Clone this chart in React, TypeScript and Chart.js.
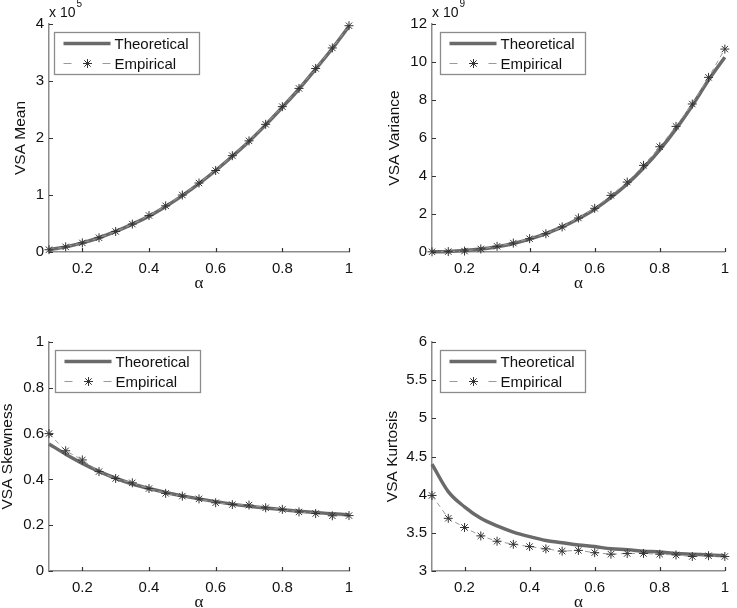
import React, { useEffect, useRef } from "react";
import { Chart, registerables } from "chart.js";

Chart.register(...registerables);

// ---------- data ----------
const alpha = [0.1, 0.15, 0.2, 0.25, 0.3, 0.35, 0.4, 0.45, 0.5, 0.55, 0.6, 0.65, 0.7, 0.75, 0.8, 0.85, 0.9, 0.95, 1.0];
const xTicks = [0.2, 0.4, 0.6, 0.8, 1];

// VSA Mean (x 10^5)
const meanTheoretical = [0.04, 0.09, 0.16, 0.25, 0.36, 0.49, 0.63, 0.8, 0.99, 1.2, 1.43, 1.68, 1.94, 2.23, 2.54, 2.86, 3.21, 3.57, 3.96];
const meanEmpirical = [0.04, 0.09, 0.16, 0.25, 0.36, 0.49, 0.64, 0.81, 1.0, 1.21, 1.43, 1.69, 1.95, 2.24, 2.55, 2.87, 3.22, 3.58, 3.97];
const meanTicks = [0, 1, 2, 3, 4];

// VSA Variance (x 10^9)
const varTheoretical = [0.01, 0.03, 0.08, 0.16, 0.28, 0.45, 0.68, 0.97, 1.32, 1.75, 2.25, 2.87, 3.58, 4.42, 5.38, 6.48, 7.71, 9.05, 10.25];
const varEmpirical = [0.01, 0.02, 0.05, 0.16, 0.3, 0.47, 0.7, 0.96, 1.32, 1.79, 2.3, 2.98, 3.68, 4.56, 5.54, 6.61, 7.79, 9.19, 10.68];
const varTicks = [0, 2, 4, 6, 8, 10, 12];

// VSA Skewness
const skewTheoretical = [0.555, 0.51, 0.47, 0.435, 0.405, 0.38, 0.36, 0.343, 0.328, 0.315, 0.303, 0.292, 0.283, 0.275, 0.268, 0.261, 0.255, 0.25, 0.245];
const skewEmpirical = [0.6, 0.525, 0.485, 0.434, 0.404, 0.385, 0.36, 0.339, 0.327, 0.315, 0.298, 0.29, 0.288, 0.276, 0.269, 0.258, 0.251, 0.241, 0.242];
const skewTicks = [0, 0.2, 0.4, 0.6, 0.8, 1];

// VSA Kurtosis
const kurtTheoretical = [4.4, 4.04, 3.84, 3.69, 3.59, 3.51, 3.45, 3.4, 3.37, 3.34, 3.32, 3.29, 3.28, 3.26, 3.25, 3.23, 3.22, 3.21, 3.2];
const kurtEmpirical = [3.99, 3.69, 3.57, 3.46, 3.39, 3.35, 3.32, 3.29, 3.26, 3.27, 3.24, 3.22, 3.23, 3.23, 3.22, 3.21, 3.19, 3.2, 3.19];
const kurtTicks = [3, 3.5, 4, 4.5, 5, 5.5, 6];

const legendLabels = ["Theoretical", "Empirical"];

// ---------- styles ----------
const SANS = "'Liberation Sans', Arial, Helvetica, sans-serif";
const SERIF = "'Liberation Serif', 'Times New Roman', serif";
const THEO_COLOR = "#6a6a6a";
const EMP_LINE = "#9a9a9a";
const STAR_COLOR = "#333333";
const AXIS_COLOR = "#8c8c8c";
const TEXT_COLOR = "#111111";

Chart.defaults.font.family = SANS;
Chart.defaults.color = TEXT_COLOR;

type PanelProps = {
  left: number;
  top: number;
  width: number;
  height: number;
  axisW: number;
  padTop: number;
  padRight: number;
  yTitle: string;
  yTitlePad: number;
  yTicks: number[];
  theo: number[];
  emp: number[];
  exponent?: string;
  legendDx: number;
};

function drawStar(ctx: CanvasRenderingContext2D, x: number, y: number, r: number) {
  ctx.beginPath();
  for (let k = 0; k < 4; k++) {
    const a = (k * Math.PI) / 4;
    ctx.moveTo(x - r * Math.cos(a), y - r * Math.sin(a));
    ctx.lineTo(x + r * Math.cos(a), y + r * Math.sin(a));
  }
  ctx.stroke();
}

function Panel(p: PanelProps) {
  const ref = useRef<HTMLCanvasElement | null>(null);

  useEffect(() => {
    const canvas = ref.current;
    if (!canvas) return;

    const decor = {
      id: "decor",
      afterDatasetsDraw(chart: any) {
        const ctx: CanvasRenderingContext2D = chart.ctx;
        const area = chart.chartArea;
        const xs = chart.scales.x;
        const ys = chart.scales.y;
        ctx.save();
        // inward tick marks
        ctx.strokeStyle = "#333";
        ctx.lineWidth = 1.2;
        ctx.beginPath();
        xTicks.forEach((v) => {
          const px = Math.round(xs.getPixelForValue(v)) + 0.5;
          ctx.moveTo(px, area.bottom);
          ctx.lineTo(px, area.bottom - 4);
        });
        p.yTicks.forEach((v) => {
          const py = Math.round(ys.getPixelForValue(v)) + 0.5;
          ctx.moveTo(area.left, py);
          ctx.lineTo(area.left + 4, py);
        });
        ctx.stroke();
        ctx.restore();
      },
      afterDraw(chart: any) {
        const ctx: CanvasRenderingContext2D = chart.ctx;
        const area = chart.chartArea;
        ctx.save();
        // exponent label
        if (p.exponent) {
          ctx.fillStyle = TEXT_COLOR;
          ctx.textBaseline = "alphabetic";
          ctx.textAlign = "left";
          ctx.font = `14px ${SANS}`;
          const base = "x 10";
          ctx.fillText(base, area.left, area.top - 7);
          const w = ctx.measureText(base).width;
          ctx.font = `10px ${SANS}`;
          ctx.fillText(p.exponent, area.left + w + 1, area.top - 17);
        }
        // legend
        const bx = Math.round(area.left + p.legendDx) + 0.5;
        const by = Math.round(area.top + 8) + 0.5;
        const bw = 145;
        const bh = 42;
        ctx.fillStyle = "#ffffff";
        ctx.fillRect(bx, by, bw, bh);
        ctx.strokeStyle = AXIS_COLOR;
        ctx.lineWidth = 1.3;
        ctx.strokeRect(bx, by, bw, bh);
        const r1 = by + 11;
        const r2 = by + 31;
        ctx.strokeStyle = THEO_COLOR;
        ctx.lineWidth = 3.5;
        ctx.beginPath();
        ctx.moveTo(bx + 9, r1);
        ctx.lineTo(bx + 56, r1);
        ctx.stroke();
        ctx.strokeStyle = EMP_LINE;
        ctx.lineWidth = 1;
        ctx.beginPath();
        ctx.moveTo(bx + 9, r2);
        ctx.lineTo(bx + 17, r2);
        ctx.moveTo(bx + 48, r2);
        ctx.lineTo(bx + 56, r2);
        ctx.stroke();
        ctx.strokeStyle = STAR_COLOR;
        ctx.lineWidth = 1;
        drawStar(ctx, bx + 33, r2, 4.5);
        ctx.fillStyle = TEXT_COLOR;
        ctx.font = `15px ${SANS}`;
        ctx.textAlign = "left";
        ctx.textBaseline = "middle";
        ctx.fillText(legendLabels[0], bx + 60, r1 + 1);
        ctx.fillText(legendLabels[1], bx + 60, r2 + 1);
        ctx.restore();
      },
    };

    const fmt = (v: any) => String(+Number(v).toFixed(2));

    const chart = new Chart(canvas, {
      type: "line",
      data: {
        datasets: [
          {
            label: legendLabels[1],
            data: alpha.map((a, i) => ({ x: a, y: p.emp[i] })),
            borderColor: EMP_LINE,
            borderWidth: 1,
            borderDash: [5, 4],
            pointStyle: "star",
            pointRadius: 4.5,
            pointBorderColor: STAR_COLOR,
            pointBorderWidth: 1,
            pointBackgroundColor: STAR_COLOR,
            tension: 0,
            clip: false as any,
          },
          {
            label: legendLabels[0],
            data: alpha.map((a, i) => ({ x: a, y: p.theo[i] })),
            borderColor: THEO_COLOR,
            borderWidth: 3.5,
            pointRadius: 0,
            cubicInterpolationMode: "monotone",
            clip: false as any,
          },
        ],
      },
      options: {
        animation: false,
        responsive: false,
        maintainAspectRatio: false,
        layout: { padding: { left: 0, right: p.padRight, top: p.padTop, bottom: 0 } },
        plugins: {
          legend: { display: false },
          tooltip: { enabled: false },
          title: { display: false },
        },
        scales: {
          x: {
            type: "linear",
            min: 0.1,
            max: 1,
            grid: { display: false, drawTicks: false, tickLength: 0 },
            border: { display: true, color: AXIS_COLOR, width: 1.5 },
            ticks: {
              font: { size: 15, family: SANS },
              color: TEXT_COLOR,
              padding: 8,
              maxRotation: 0,
              callback: fmt,
            },
            title: {
              display: true,
              text: "α",
              font: { size: 17, family: SERIF },
              color: TEXT_COLOR,
              padding: { top: 0, bottom: 6 },
            },
            afterBuildTicks: (s: any) => {
              s.ticks = xTicks.map((v) => ({ value: v }));
            },
            afterFit: (s: any) => {
              s.height = 48;
            },
          },
          y: {
            type: "linear",
            min: p.yTicks[0],
            max: p.yTicks[p.yTicks.length - 1],
            grid: { display: false, drawTicks: false, tickLength: 0 },
            border: { display: true, color: AXIS_COLOR, width: 1.5 },
            ticks: {
              font: { size: 15, family: SANS },
              color: TEXT_COLOR,
              padding: 5,
              callback: fmt,
            },
            title: {
              display: true,
              text: p.yTitle,
              font: { size: 15.5, family: SANS },
              color: TEXT_COLOR,
              padding: { top: p.yTitlePad, bottom: 0 },
            },
            afterBuildTicks: (s: any) => {
              s.ticks = p.yTicks.map((v) => ({ value: v }));
            },
            afterFit: (s: any) => {
              s.width = p.axisW;
            },
          },
        },
      },
      plugins: [decor],
    } as any);

    return () => chart.destroy();
  }, []);

  return (
    <div style={{ position: "absolute", left: p.left, top: p.top, width: p.width, height: p.height }}>
      <canvas
        ref={ref}
        width={p.width}
        height={p.height}
        style={{ display: "block", width: p.width, height: p.height }}
      />
    </div>
  );
}

export default function App() {
  return (
    <div
      style={{
        position: "fixed",
        left: 0,
        top: 0,
        width: 737,
        height: 608,
        overflow: "hidden",
        background: "#ffffff",
      }}
    >
      <Panel
        left={0}
        top={0}
        width={368}
        height={300}
        axisW={49}
        padTop={24}
        padRight={19}
        yTitle="VSA Mean"
        yTitlePad={11}
        yTicks={meanTicks}
        theo={meanTheoretical}
        emp={meanEmpirical}
        exponent="5"
        legendDx={5}
      />
      <Panel
        left={368}
        top={0}
        width={369}
        height={300}
        axisW={64}
        padTop={24}
        padRight={5}
        yTitle="VSA Variance"
        yTitlePad={17}
        yTicks={varTicks}
        theo={varTheoretical}
        emp={varEmpirical}
        exponent="9"
        legendDx={8}
      />
      <Panel
        left={0}
        top={319}
        width={368}
        height={300}
        axisW={49}
        padTop={23}
        padRight={19}
        yTitle="VSA Skewness"
        yTitlePad={-2}
        yTicks={skewTicks}
        theo={skewTheoretical}
        emp={skewEmpirical}
        legendDx={6}
      />
      <Panel
        left={368}
        top={319}
        width={369}
        height={300}
        axisW={64}
        padTop={23}
        padRight={5}
        yTitle="VSA Kurtosis"
        yTitlePad={15}
        yTicks={kurtTicks}
        theo={kurtTheoretical}
        emp={kurtEmpirical}
        legendDx={8}
      />
    </div>
  );
}
